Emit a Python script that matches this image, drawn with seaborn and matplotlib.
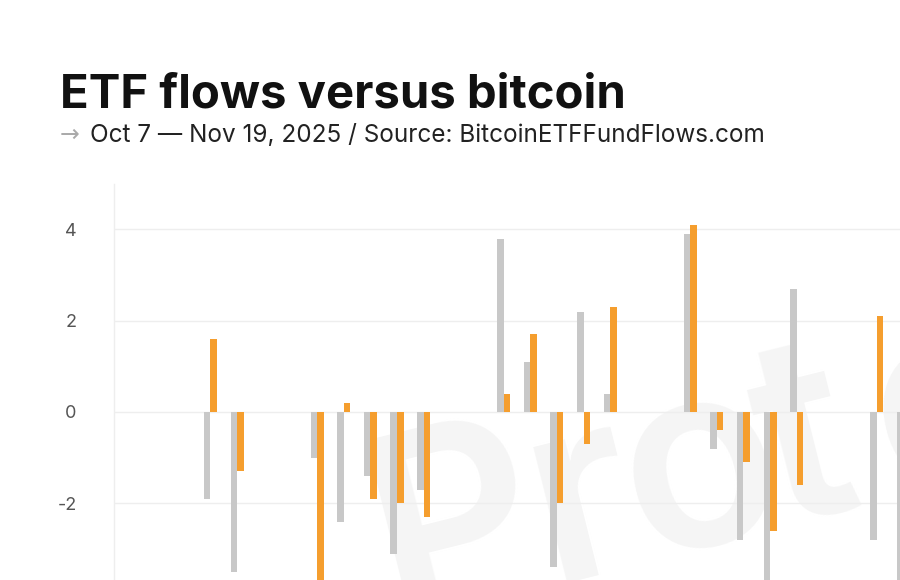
import numpy as np
import pandas as pd
import matplotlib
matplotlib.use("Agg")
import matplotlib.pyplot as plt
import seaborn as sns

# ---- data (day index: Oct 7, 2025 = 0) ----
days = [2, 3, 6, 7, 8, 9, 10, 13, 14, 15, 16, 17, 20, 21, 22, 23, 24, 27, 28]
etf_flows = [-1.9, -3.5, -1.0, -2.4, -1.4, -3.1, -1.7, 3.8, 1.1, -3.4, 2.2, 0.4,
             3.9, -0.8, -2.8, -4.0, 2.7, -2.8, -4.0]
bitcoin = [1.6, -1.3, -4.2, 0.2, -1.9, -2.0, -2.3, 0.4, 1.7, -2.0, -0.7, 2.3,
           4.1, -0.4, -1.1, -2.6, -1.6, 2.1, np.nan]
y_ticks = [-4, -2, 0, 2, 4]
title = "ETF flows versus bitcoin"
subtitle = "Oct 7 \u2014 Nov 19, 2025 / Source: BitcoinETFFundFlows.com"
watermark = "Protos"

GRAY = "#c8c8c8"
ORANGE = "#f59e2e"
GRID = "#eeeeee"

df = pd.DataFrame({
    "day": days * 2,
    "value": etf_flows + bitcoin,
    "series": ["ETF flows"] * len(days) + ["Bitcoin"] * len(days),
}).dropna()

sns.set_theme(style="white")
plt.rcParams["font.family"] = ["Inter", "DejaVu Sans"]

W, H = 900, 580
fig = plt.figure(figsize=(W / 100, H / 100), dpi=100)
fig.patch.set_facecolor("white")

# axes extends past the right and bottom edge of the figure (cropped view)
x0, x1 = -1.62, 43.5
y0, y1 = -5, 5
px_day = 26.65
px_unit = 45.65
ax_w = (x1 - x0) * px_day
ax_h = (y1 - y0) * px_unit
ax_left = 114
ax_top = 412 - y1 * px_unit
ax = fig.add_axes([ax_left / W, (H - ax_top - ax_h) / H, ax_w / W, ax_h / H])
ax.set_facecolor("none")

# faint rotated watermark, letter by letter (wide tracking)
ang = 14.0
wm_x, wm_y = 392, 622          # baseline start, px from top-left
wm_offsets = [0, 162, 258, 398, 515, 650]
ca, sa = np.cos(np.radians(ang)), np.sin(np.radians(ang))
for ch, k in zip(watermark, wm_offsets):
    px, py = wm_x + k * ca, wm_y - k * sa
    ax.text(px / W, (H - py) / H, ch, transform=fig.transFigure,
            fontsize=185, fontweight="semibold", color="#f5f5f5", rotation=ang,
            rotation_mode="anchor", ha="left", va="baseline", zorder=0)

sns.barplot(data=df, x="day", y="value", hue="series",
            hue_order=["ETF flows", "Bitcoin"], palette=[GRAY, ORANGE],
            saturation=1, native_scale=True, dodge=True, width=0.49, gap=0,
            errorbar=None, linewidth=0, legend=False, ax=ax, zorder=3)

ax.set_xlim(x0, x1)
ax.set_ylim(y0, y1)
ax.set_yticks(y_ticks)
ax.set_yticklabels([str(t) for t in y_ticks])
ax.set_xticks([])
ax.set_xlabel("")
ax.set_ylabel("")
ax.grid(axis="y", color=GRID, linewidth=1, zorder=1)
ax.set_axisbelow(True)
for s in ["top", "right", "bottom"]:
    ax.spines[s].set_visible(False)
ax.spines["left"].set_color(GRID)
ax.spines["left"].set_linewidth(1)
ax.tick_params(axis="y", length=10, width=0.75, color=GRID, pad=17,
               labelsize=13, labelcolor="#555555")

fig.text(60 / W, 1 - 107 / H, title, fontsize=34, fontweight="bold",
         color="#111111", ha="left", va="baseline")
fig.text(60 / W, 1 - 142 / H, "\u2192", fontsize=17, color="#aaaaaa",
         ha="left", va="baseline", family=["DejaVu Sans"])
fig.text(90 / W, 1 - 142 / H, subtitle, fontsize=17.5, color="#222222",
         ha="left", va="baseline")

fig.savefig("out.png", dpi=100, facecolor="white")
